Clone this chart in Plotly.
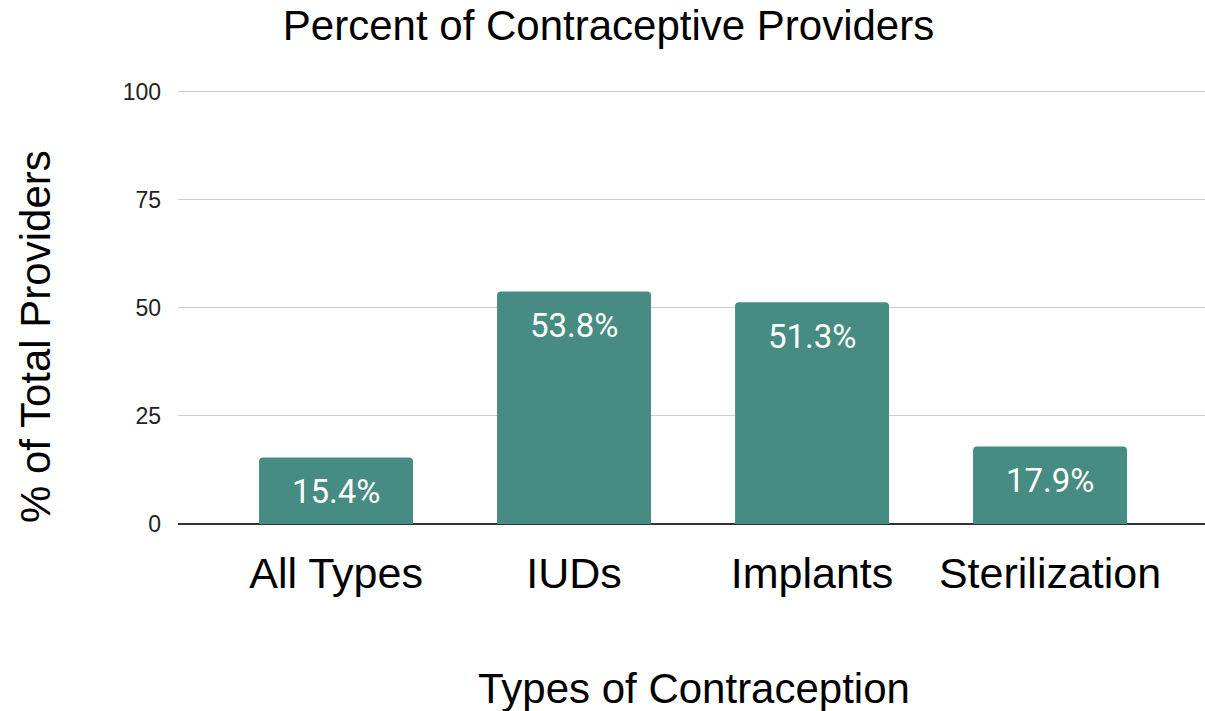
import plotly.graph_objects as go

categories = ["All Types", "IUDs", "Implants", "Sterilization"]
values = [15.4, 53.8, 51.3, 17.9]
labels = ["15.4%", "53.8%", "51.3%", "17.9%"]
y_ticks = [0, 25, 50, 75, 100]

W, H = 1205, 711
L, R, T, B = 178, 0, 90, 187
plot_w = W - L - R
plot_h = H - T - B

def px_x(x):
    return (x - L) / plot_w

def px_y(y):
    return (H - B - y) / plot_h

fig = go.Figure()
fig.add_trace(go.Bar(
    x=list(range(len(categories))),
    y=values,
    marker=dict(color="#468c82", cornerradius=4, line=dict(width=0)),
    width=0.647,
    hoverinfo="skip",
))

label_anns = [
    dict(x=i, y=v, xref="x", yref="y", text=t, showarrow=False,
         xanchor="center", yanchor="middle", yshift=-34,
         font=dict(family="Roboto", size=33, color="white"))
    for i, (v, t) in enumerate(zip(values, labels))
]

fig.update_layout(
    width=W, height=H,
    margin=dict(l=L, r=R, t=T, b=B),
    paper_bgcolor="white", plot_bgcolor="white",
    font=dict(family="Liberation Sans, Arial, sans-serif", color="#000000"),
    title=dict(text="Percent of Contraceptive Providers", x=0.505, xanchor="center",
               y=0.965, yanchor="middle", font=dict(size=42, color="#000000")),
    showlegend=False,
    xaxis=dict(
        tickmode="array", tickvals=list(range(len(categories))), ticktext=categories,
        range=[-0.664, 3.651], showgrid=False, zeroline=False,
        tickfont=dict(size=43, color="#000000"), ticks="", ticklabelstandoff=20,
        showline=False,
    ),
    yaxis=dict(
        range=[0, 100.4], tickvals=y_ticks, showgrid=True, gridcolor="#cccccc", gridwidth=1,
        zeroline=True, zerolinecolor="#333333", zerolinewidth=2,
        tickfont=dict(size=23, color="#222222"), ticks="", ticklabelstandoff=16,
        showline=False,
    ),
    annotations=label_anns + [
        dict(text="Types of Contraception", x=px_x(694), y=px_y(688),
             xref="paper", yref="paper", xanchor="center", yanchor="middle",
             showarrow=False, font=dict(size=42, color="#000000")),
        dict(text="% of Total Providers", x=px_x(35), y=px_y(337),
             xref="paper", yref="paper", xanchor="center", yanchor="middle",
             showarrow=False, textangle=-90, font=dict(size=42, color="#000000")),
    ],
)

fig.write_html("out.html", config={"displayModeBar": False},
               post_script="document.body.style.margin='0px';")
